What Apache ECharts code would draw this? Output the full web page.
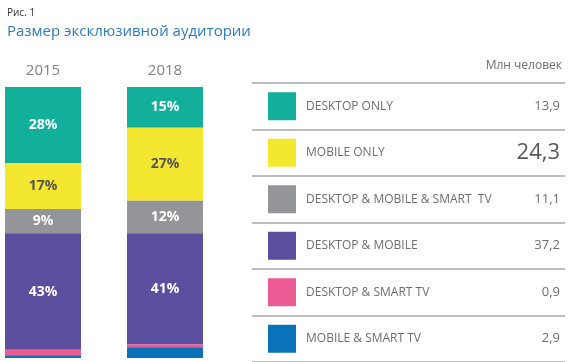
<!DOCTYPE html>
<html><head><meta charset="utf-8">
<script src="https://cdn.jsdelivr.net/npm/echarts@6/dist/echarts.min.js"></script>
<style>html,body{margin:0;padding:0;background:#fff}#c{width:570px;height:362px}</style>
</head><body><div id="c"></div>
<script>
const years = ['2015', '2018'];
const segments = ['DESKTOP ONLY', 'MOBILE ONLY', 'DESKTOP & MOBILE & SMART  TV', 'DESKTOP & MOBILE', 'DESKTOP & SMART TV', 'MOBILE & SMART TV'];
const share2015 = [28, 17, 9, 43, 2, 1];
const share2018 = [15, 27, 12, 41, 1, 4];
const millions = ['13,9', '24,3', '11,1', '37,2', '0,9', '2,9'];
const highlightRow = 1;
const colors = ['#12b09a', '#f4e72f', '#939598', '#5b4e9f', '#ec5a93', '#0a72b9'];
const labelColors = ['#fff', '#555', '#fff', '#fff', '#fff', '#fff'];
const FONT = '"Open Sans", sans-serif';

const chart = echarts.init(document.getElementById('c'));
const rich = { name: { color: '#6d6e71', fontSize: 12, fontFamily: FONT, padding: [0, 0, 0, 10] } };
colors.forEach((c, i) => { rich['s' + i] = { width: 28, height: 28, backgroundColor: c }; });

const series = segments.map((name, i) => ({
  name: name,
  type: 'bar',
  stack: 'total',
  barWidth: 76,
  clip: false,
  xAxisIndex: 0, yAxisIndex: 0,
  itemStyle: { color: colors[i] },
  label: {
    show: true, position: 'inside',
    color: labelColors[i], fontWeight: 'bold', fontSize: 14, fontFamily: FONT,
    formatter: p => p.value >= 5 ? p.value + '%' : ''
  },
  data: [share2015[i], share2018[i]]
}));

chart.setOption({
  animation: false,
  title: [
    { text: 'Рис. 1', left: 2, top: 3, textStyle: { fontSize: 10, fontWeight: 'normal', color: '#333', fontFamily: FONT } },
    { text: 'Размер эксклюзивной аудитории', left: 2, top: 19, textStyle: { fontSize: 15, fontWeight: 'normal', color: '#2b7bbf', fontFamily: FONT } },
    { text: 'Млн человек', right: 3, top: 55, textStyle: { fontSize: 12, fontWeight: 'normal', color: '#6d6e71', fontFamily: FONT } }
  ],
  grid: [
    { left: 43, width: 122, top: 87, bottom: 4 },
    { left: 252, right: 5, top: 83, height: 282 }
  ],
  xAxis: [
    { type: 'category', gridIndex: 0, position: 'top', data: years, boundaryGap: false,
      axisLine: { show: false }, axisTick: { show: false },
      axisLabel: { color: '#808285', fontSize: 15, fontFamily: FONT, margin: 9 } },
    { type: 'value', gridIndex: 1, show: false, min: 0, max: 1 }
  ],
  yAxis: [
    { type: 'value', gridIndex: 0, min: 0, max: 100, inverse: true, show: false },
    { type: 'category', gridIndex: 1, inverse: true, data: segments,
      axisLine: { show: false }, axisTick: { show: false },
      splitLine: { show: true, lineStyle: { color: '#bcbec0', width: 2 } },
      axisLabel: { inside: true, margin: 16, align: 'left',
        formatter: (v, i) => '{s' + i + '|}{name|' + v + '}', rich: rich } },
    { type: 'category', gridIndex: 1, inverse: true, position: 'right', data: millions,
      axisLine: { show: false }, axisTick: { show: false },
      axisLabel: { inside: true, margin: 5, align: 'right',
        formatter: (v, i) => (i === highlightRow ? '{big|' : '{num|') + v + '}',
        rich: {
          num: { color: '#6d6e71', fontSize: 13, fontFamily: FONT },
          big: { color: '#58595b', fontSize: 22, fontFamily: FONT }
        } } }
  ],
  series: series
});
</script></body></html>
